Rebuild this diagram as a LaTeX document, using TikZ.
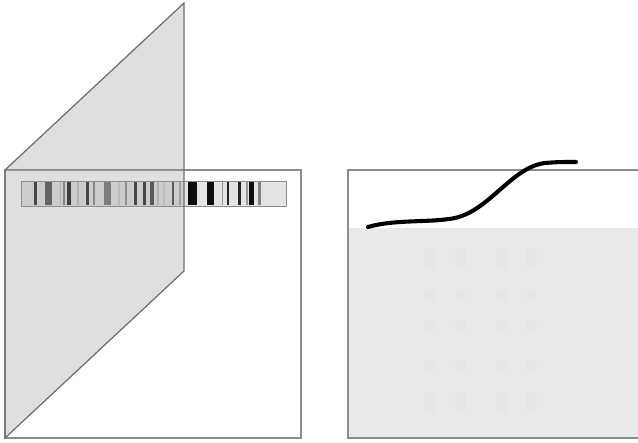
\documentclass[tikz,border=0pt]{standalone}
\usepackage{tikz}
\usetikzlibrary{positioning}
\definecolor{gsEdge}{RGB}{140,140,140}
\definecolor{gsPlane}{RGB}{150,150,150}
\definecolor{gsStrip}{RGB}{228,228,228}
\definecolor{gsPanel}{RGB}{233,233,233}
\definecolor{gsSpot}{RGB}{230,230,230}

\begin{document}
\begin{tikzpicture}[
    x=0.025cm, y=-0.025cm,
    frame/.style={draw=gsEdge, line width=0.9pt},
    band/.style={fill=black!#1, draw=none},
    plane/.style={draw=gsEdge!80!black, line width=0.9pt, fill=gsPlane, fill opacity=0.3},
    profile/.style={line width=2.9pt, line cap=round}
]
  \useasboundingbox (0,0) rectangle (638,442);

  % left panel with the strip
  \draw[frame] (5,170) rectangle (301,438);
  \draw[draw=gsEdge, fill=gsStrip, line width=0.6pt] (21,181) rectangle (286,206);
  \foreach \xa/\xb/\tone in {34/37/85, 44.7/52/70, 59.7/60.7/25, 63/65.3/50,
      67.3/71.3/90, 77.3/79.3/25, 85.7/88.7/85, 93/95/50, 104/111/55,
      118/120/20, 124.7/127/45, 134/137.3/85, 143/146.3/85, 149.7/154/75,
      157.3/159.3/25, 162.7/165/20, 171.7/174/75, 179.3/180.7/35,
      188.3/196.7/95, 206.7/214/95, 221.7/223.3/40, 226.7/229.3/85,
      238.3/241/85, 246/247.7/40, 249.3/254/95, 258.3/261/50}
    \fill[band=\tone] (\xa,182) rectangle (\xb,205);

  % slanted plane
  \draw[plane] (5,170) -- (184,3) -- (184,271) -- (5,438) -- cycle;

  % right panel
  \fill[gsPanel] (348,228) rectangle (638,438);
  \foreach \xa in {424,455,496,526}
    \foreach \ya/\yb in {249/269, 290/301, 321/332, 361/372, 393/413}
      \fill[gsSpot] (\xa,\ya) rectangle ++(11,\yb-\ya);
  \draw[frame] (638,170) -- (348,170) -- (348,438) -- (638,438);
  \draw[profile] (368,227) .. controls (395,219) and (430,223) .. (455,218)
    .. controls (490,210) and (512,167) .. (545,163)
    .. controls (558,162) .. (576,162);
\end{tikzpicture}
\end{document}
